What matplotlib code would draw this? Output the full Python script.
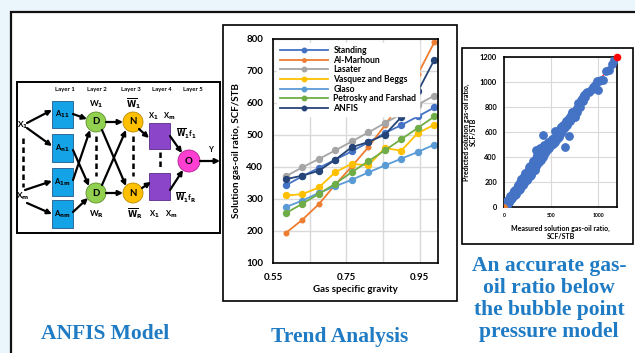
import numpy as np
import matplotlib.pyplot as plt
from matplotlib.patches import Rectangle, Circle

# ==========================================
# 1. DATOS
# ==========================================
gas_gravity = [0.585, 0.63, 0.675, 0.72, 0.765, 0.81, 0.855, 0.90, 0.945, 0.99]

standing = [343, 371, 397, 423, 449, 477, 506, 531, 558, 586]
al_marhoun = [194, 235, 284, 345, 402, 462, 530, 605, 690, 790]
lasater = [371, 399, 425, 452, 480, 508, 537, 566, 595, 623]
vasquez_beggs = [311, 315, 336, 384, 410, 405, 459, 451, 506, 532]
glaso = [275, 295, 319, 340, 360, 383, 405, 426, 447, 470]
petrosky = [256, 285, 316, 348, 384, 418, 452, 487, 522, 558]
anfis = [362, 373, 388, 423, 462, 478, 501, 556, 636, 735]

series_names = ['Standing', 'Al-Marhoun', 'Lasater', 'Vasquez and Beggs',
                'Glaso', 'Petrosky and Farshad', 'ANFIS']
series_values = [standing, al_marhoun, lasater, vasquez_beggs, glaso, petrosky, anfis]
series_colors = ['#4472C4', '#ED7D31', '#A5A5A5', '#FFC000', '#5B9BD5', '#70AD47', '#264478']

x_ticks = [0.55, 0.65, 0.75, 0.85, 0.95]
x_tick_labels = ['0.55', '', '0.75', '', '0.95']

# medido vs predicho (ANFIS)
measured = [5, 10, 15, 20, 25, 30, 35, 40, 45, 50, 55, 60, 70, 75, 80, 90, 95, 100,
            110, 115, 120, 130, 135, 140, 150, 155, 160, 170, 175, 180, 190, 195, 200,
            210, 215, 220, 230, 235, 240, 250, 255, 260, 270, 275, 280, 290, 295, 300,
            310, 315, 320, 330, 335, 340, 350, 355, 360, 370, 375, 380, 390, 400, 410,
            418, 420, 430, 440, 450, 460, 470, 480, 490, 500, 510, 520, 530, 540, 543,
            550, 560, 570, 580, 590, 600, 610, 620, 630, 643, 650, 660, 670, 686, 690,
            700, 710, 720, 730, 740, 757, 760, 770, 780, 790, 800, 811, 820, 829, 840,
            850, 860, 880, 900, 920, 940, 953, 970, 1000, 1007, 1030, 1050, 1080, 1114,
            1150, 1170,
            12, 28, 42, 58, 65, 85, 105, 125, 145, 165, 185, 205, 225, 245, 265, 285,
            305, 325, 345, 365, 385, 395, 405, 425, 445, 465, 485, 505, 525, 560, 600,
            640, 680, 720, 750, 840, 870, 990]
predicted = [8, 4, 20, 12, 30, 22, 45, 35, 52, 40, 62, 55, 78, 65, 95, 82, 110, 92,
             125, 100, 140, 118, 150, 128, 170, 140, 180, 155, 200, 165, 215, 178, 230,
             190, 245, 205, 260, 215, 270, 232, 290, 240, 300, 250, 330, 265, 320, 280,
             350, 295, 360, 310, 390, 330, 420, 345, 440, 360, 465, 390, 420, 450, 400,
             578, 440, 470, 430, 480, 455, 490, 470, 510, 495, 530, 505, 550, 520, 610,
             570, 545, 600, 560, 620, 590, 640, 605, 660, 482, 640, 690, 655, 570, 710,
             690, 740, 710, 760, 735, 718, 780, 760, 790, 830, 810, 798, 860, 865, 850,
             900, 880, 920, 919, 940, 960, 959, 975, 937, 1012, 1020, 1018, 1090, 1093,
             1147, 1175,
             25, 15, 60, 40, 85, 70, 130, 105, 175, 145, 225, 180, 270, 220, 320, 255,
             370, 300, 460, 400, 470, 380, 430, 500, 470, 520, 500, 545, 520, 610, 640,
             630, 700, 760, 740, 880, 910, 1010]
perfect_line = [0, 1200]

# ==========================================
# 2. FIGURA Y FONDOS
# ==========================================
W, H = 635, 353
fig = plt.figure(figsize=(W / 100, H / 100), dpi=100)
fig.patch.set_facecolor('#EAF5FC')

def px_axes(x0, y0, x1, y1, z=1):
    return fig.add_axes([x0 / W, 1 - y1 / H, (x1 - x0) / W, (y1 - y0) / H], zorder=z)

bg = fig.add_axes([0, 0, 1, 1], zorder=0)
bg.set_xlim(0, W)
bg.set_ylim(H, 0)
bg.axis('off')

bg.add_patch(Rectangle((11, 12), 640, 360, fc='white', ec='#111111', lw=1.6))
bg.add_patch(Rectangle((223, 25), 234, 276, fc='white', ec='black', lw=1.2))
bg.add_patch(Rectangle((462, 48), 171, 196, fc='white', ec='black', lw=1.2))
bg.add_patch(Rectangle((17, 82), 203, 151, fc='white', ec='black', lw=1.4))

# ==========================================
# 3. DIAGRAMA ANFIS
# ==========================================
txt = dict(ha='center', va='center', fontweight='bold', family='Lato')

for i, lx in enumerate([65, 97, 131, 162, 193]):
    bg.text(lx, 89, 'Layer %d' % (i + 1), fontsize=4.3, **txt)

a_rows = [(101, 128, r'A$_{\mathbf{11}}$'), (134, 162, r'A$_{\mathbf{n1}}$'),
          (168, 196, r'A$_{\mathbf{1m}}$'), (200, 228, r'A$_{\mathbf{nm}}$')]
for y0, y1, lab in a_rows:
    bg.add_patch(Rectangle((52, y0), 21, y1 - y0, fc='#14A3E6', ec='#1F5A8A', lw=0.6))
    bg.text(62.5, (y0 + y1) / 2, lab, fontsize=5.5, **txt)

for cy in [122, 193]:
    bg.add_patch(Circle((96, cy), 10, fc='#92D050', ec='#5E8E2C', lw=0.6))
    bg.text(96, cy, 'D', fontsize=7, **txt)
    bg.add_patch(Circle((133, cy), 10, fc='#FFC000', ec='#B88A00', lw=0.6))
    bg.text(133, cy, 'N', fontsize=7, **txt)

bg.add_patch(Rectangle((149, 123), 21, 26, fc='#8A45C8', ec='#5B2A88', lw=0.6))
bg.add_patch(Rectangle((149, 173), 21, 27, fc='#8A45C8', ec='#5B2A88', lw=0.6))
bg.add_patch(Circle((189, 161), 11, fc='#FF3FD2', ec='#B02090', lw=0.6))
bg.text(189, 161, 'O', fontsize=7, **txt)

arrows = [((27, 123), (52, 110)), ((27, 128), (52, 146)),
          ((25, 190), (52, 181)), ((27, 203), (52, 214)),
          ((73, 114), (87, 119)), ((73, 150), (89, 186)),
          ((73, 180), (90, 130)), ((73, 212), (88, 198)),
          ((106, 122), (123, 122)), ((102, 130), (126, 186)),
          ((102, 185), (126, 130)), ((106, 193), (123, 193)),
          ((139, 129), (149, 138)), ((142, 188), (151, 182)),
          ((170, 136), (182, 153)), ((170, 190), (183, 170)),
          ((200, 161), (220, 161))]
for p0, p1 in arrows:
    bg.annotate('', xy=p1, xytext=p0,
                arrowprops=dict(arrowstyle='-|>', lw=1.6, color='black',
                                mutation_scale=7, shrinkA=0, shrinkB=0))

for x, y0, y1 in [(23, 138, 187), (96, 136, 176), (133, 136, 176), (160, 152, 170)]:
    bg.plot([x, x], [y0, y1], color='black', lw=1.8, ls=(0, (2.2, 1.4)))

bg.text(23, 125, r'X$_{\mathbf{1}}$', fontsize=6, **txt)
bg.text(23, 196, r'X$_{\mathbf{m}}$', fontsize=6, **txt)
bg.text(96, 104, r'W$_{\mathbf{1}}$', fontsize=6, **txt)
bg.text(97, 214, r'W$_{\mathbf{R}}$', fontsize=6, **txt)
bg.text(133, 104, r'$\overline{\mathbf{W}}_{\mathbf{1}}$', fontsize=6, **txt)
bg.text(135, 214, r'$\overline{\mathbf{W}}_{\mathbf{R}}$', fontsize=6, **txt)
bg.text(153, 116, r'X$_{\mathbf{1}}$', fontsize=5.5, **txt)
bg.text(169, 116, r'X$_{\mathbf{m}}$', fontsize=5.5, **txt)
bg.text(154, 214, r'X$_{\mathbf{1}}$', fontsize=5.5, **txt)
bg.text(171, 214, r'X$_{\mathbf{m}}$', fontsize=5.5, **txt)
bg.text(186, 134, r'$\overline{\mathbf{W}}_{\mathbf{1}}$f$_{\mathbf{1}}$', fontsize=5.5, **txt)
bg.text(186, 198, r'$\overline{\mathbf{W}}_{\mathbf{1}}$f$_{\mathbf{R}}$', fontsize=5.5, **txt)
bg.text(210, 149, 'Y', fontsize=5.5, **txt)

# ==========================================
# 4. TITULOS
# ==========================================
title_kw = dict(ha='center', va='center', fontweight='bold', family='Liberation Serif',
                color='#1F7BC4', fontsize=15.5)
bg.text(105, 334, 'ANFIS Model', **title_kw)
bg.text(340, 337, 'Trend Analysis', **title_kw)
bg.text(549, 299, 'An accurate gas-\noil ratio below\nthe bubble point\npressure model',
        linespacing=1.12, **title_kw)

# ==========================================
# 5. GRAFICA DE TENDENCIAS
# ==========================================
ax = px_axes(273, 39, 438, 263)
for name, vals, col in zip(series_names, series_values, series_colors):
    ms = 3.3 if name == 'Al-Marhoun' else 4.3
    ax.plot(gas_gravity, vals, color=col, lw=1.3, marker='o', ms=ms, label=name)
ax.set_xlim(0.55, 1.0)
ax.set_ylim(100, 800)
ax.set_xticks(x_ticks)
ax.set_xticklabels(x_tick_labels)
ax.set_yticks(range(100, 801, 100))
ax.grid(True, color='#D9D9D9', lw=1)
ax.set_axisbelow(True)
ax.tick_params(length=0, labelsize=7, pad=7)
for lab in ax.get_xticklabels() + ax.get_yticklabels():
    lab.set_fontweight('bold')
    lab.set_family('Lato')
for sp in ax.spines.values():
    sp.set_linewidth(1.2)
ax.set_ylabel('Solution gas-oil ratio, SCF/STB', fontsize=7, fontweight='bold',
              family='Lato', labelpad=4)
ax.set_xlabel('Gas specific gravity', fontsize=7, fontweight='bold', family='Lato',
              labelpad=2)
leg = ax.legend(loc='upper left', bbox_to_anchor=(0.0, 1.0),
                frameon=True, fancybox=False, edgecolor='white', framealpha=1,
                handlelength=5.6, labelspacing=0.08, handletextpad=0.6,
                borderpad=0.3, markerscale=0.75,
                prop={'family': 'Lato', 'weight': 'bold', 'size': 6.2})

# ==========================================
# 6. DISPERSION MEDIDO VS PREDICHO
# ==========================================
ax2 = px_axes(504, 57, 617, 207)
ax2.scatter(measured, predicted, s=28, color='#4472C4', zorder=3)
ax2.plot(perfect_line, perfect_line, color='red', lw=0.8, zorder=2)
ax2.scatter(perfect_line[:1], perfect_line[:1], s=14, color='#ED7D31', zorder=4)
ax2.scatter(perfect_line[1:], perfect_line[1:], s=20, color='red', zorder=4, clip_on=False)
ax2.set_xlim(0, 1200)
ax2.set_ylim(0, 1200)
ax2.set_xticks([0, 500, 1000])
ax2.set_yticks(range(0, 1201, 200))
ax2.grid(True, color='#D9D9D9', lw=0.8)
ax2.set_axisbelow(True)
ax2.tick_params(length=0)
ax2.tick_params(axis='y', labelsize=5.3, pad=5)
ax2.tick_params(axis='x', labelsize=3.6, pad=4)
for lab in ax2.get_xticklabels() + ax2.get_yticklabels():
    lab.set_fontweight('bold')
    lab.set_family('Lato')
for sp in ax2.spines.values():
    sp.set_linewidth(1.2)
ax2.set_ylabel('Predicted solution gas-oil ratio,\nSCF/STB', fontsize=5, fontweight='bold',
               family='Lato', labelpad=2, linespacing=1.1)
ax2.set_xlabel('Measured solution gas-oil ratio,\nSCF/STB', fontsize=5, fontweight='bold',
               family='Lato', labelpad=5, linespacing=1.3)

fig.savefig('out.png', dpi=100, facecolor=fig.get_facecolor())
